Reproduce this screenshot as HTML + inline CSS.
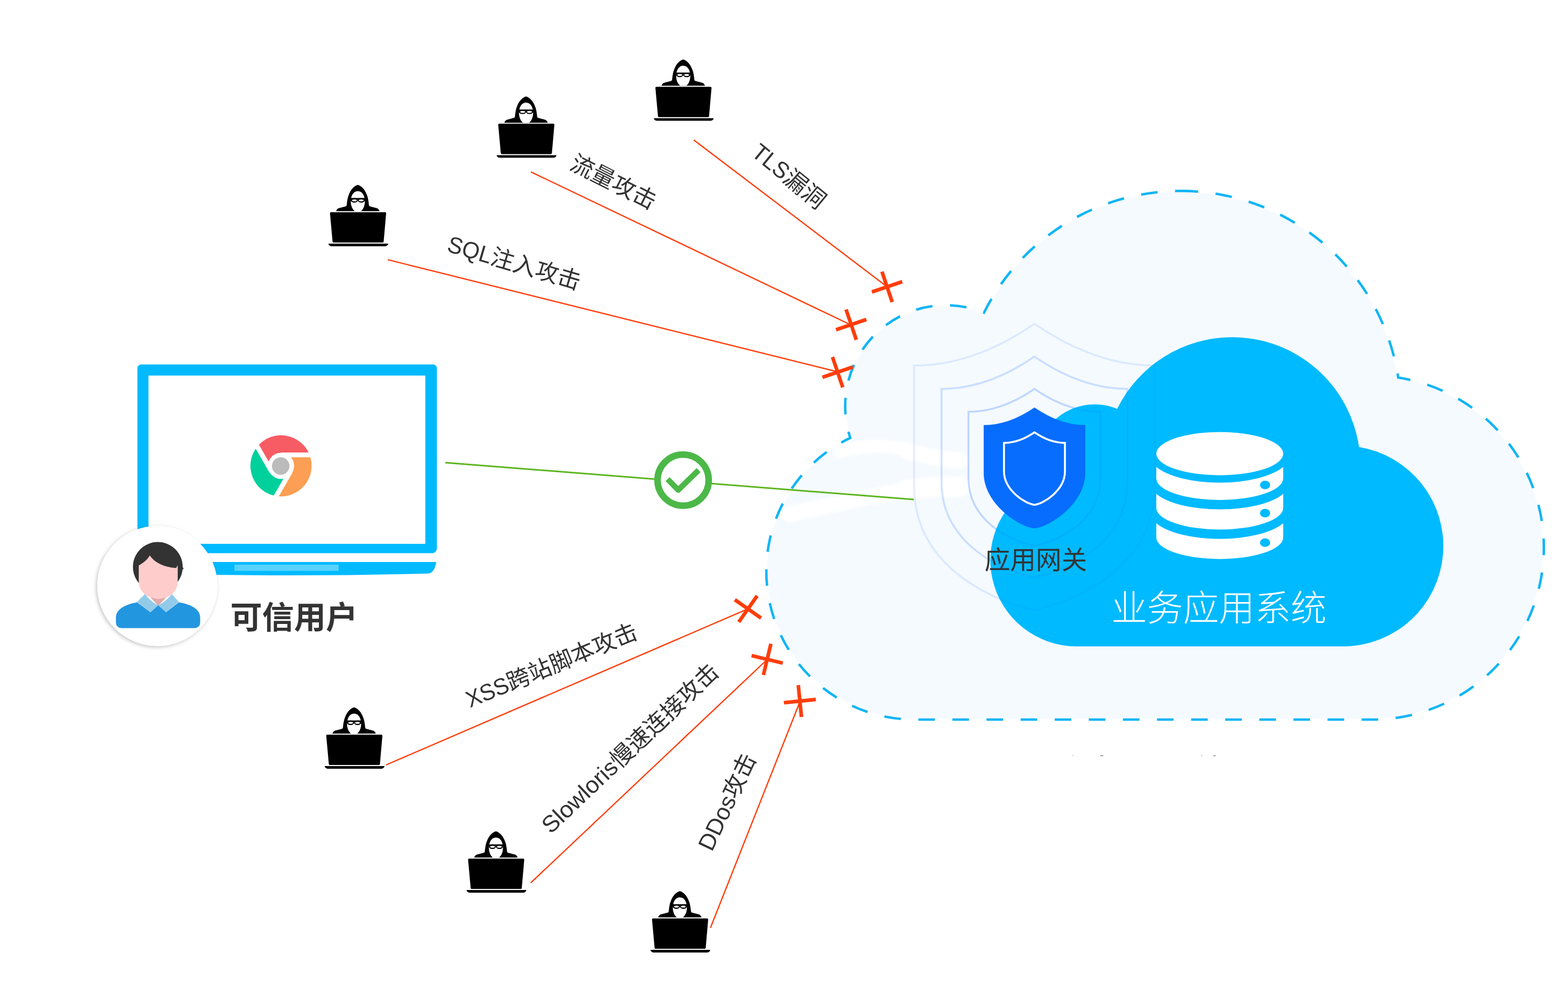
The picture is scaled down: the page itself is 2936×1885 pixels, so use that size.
<!DOCTYPE html>
<html lang="zh"><head><meta charset="utf-8"><title>应用网关防护示意图</title>
<style>
html,body{margin:0;padding:0;background:#fff;}
body{width:2936px;height:1885px;overflow:hidden;font-family:"Liberation Sans",sans-serif;}
svg{display:block;}
svg text{font-family:"Liberation Sans","Noto Sans CJK SC",sans-serif;font-kerning:none;}
</style></head><body>
<svg width="2936" height="1885" viewBox="0 0 2936 1885">
<defs>
<filter id="sh" x="-20%" y="-20%" width="140%" height="140%"><feDropShadow dx="-2" dy="2" stdDeviation="3.5" flood-color="#000" flood-opacity="0.24"/></filter>
<filter id="blur3" x="-10%" y="-50%" width="120%" height="200%"><feGaussianBlur stdDeviation="2.5"/></filter>
<clipPath id="innerclip"><path d="M2307.20 631.20 A240.0 240.0 0 0 1 2544.7 836.8 A187.8 187.8 0 0 1 2514.9 1210.0 H2015.9 A161.5 161.5 0 0 1 1945.6 903.1 A110.0 110.0 0 0 1 2091.8 765.4 A240.0 240.0 0 0 1 2307.20 631.20 Z"/></clipPath>
<symbol id="hacker" width="112" height="115" viewBox="0 0 112 115" overflow="visible">
<path d="M14.3 49.3C15.3 46.5 17 44.6 19 43.8L32.5 40.2C33.6 39.8 34 39 34.2 37.5C35 30 36 23 38.4 18C41 11 46 3 55 0C64 3 69 11 71.6 18C74 23 75 30 75.8 37.5C76 39 76.4 39.8 77.5 40.2L91 43.8C93 44.6 94.7 46.5 95.7 49.3Z" fill="#000"/>
<path d="M55 11.7C47 11.7 41.8 20 41.8 31C41.8 40 45.5 46.5 49.5 49.4L60.5 49.4C64.5 46.5 68.2 40 68.2 31C68.2 20 63 11.7 55 11.7Z" fill="#fff"/>
<path d="M41.6 24.6H68.4V27.4H41.6Z" fill="#000"/>
<ellipse cx="48.4" cy="29" rx="6.6" ry="4.2" fill="#000"/><ellipse cx="61.6" cy="29" rx="6.6" ry="4.2" fill="#000"/>
<ellipse cx="48.6" cy="29.1" rx="4.5" ry="1.9" fill="#fff"/><ellipse cx="61.4" cy="29.1" rx="4.5" ry="1.9" fill="#fff"/>
<path d="M4.9 51.2H106a2 2 0 0 1 2 2.2L103.4 106.2a2 2 0 0 1 -2 1.9H9.7a2 2 0 0 1 -2 -1.9L2.9 53.4a2 2 0 0 1 2 -2.2Z" fill="#000"/>
<path d="M0.8 110.1H111.1a0.8 0.8 0 0 1 0.7 1.2C110.5 113.7 108.5 114.9 106 114.9H6C3.5 114.9 1.5 113.7 0.1 111.3a0.8 0.8 0 0 1 0.7 -1.2Z" fill="#000"/>
</symbol>
</defs>
<path d="M2212.50 357.40 A411.9 411.9 0 0 1 2618.1 706.8 A322.0 322.0 0 0 1 2568.5 1347.0 H1712.3 A277.4 277.4 0 0 1 1592.1 819.6 A188.9 188.9 0 0 1 1842.5 585.2 A411.9 411.9 0 0 1 2212.50 357.40 Z" fill="#f5faff"/>
<g filter="url(#blur3)" stroke="#fff" fill="none" stroke-linecap="round" stroke-linejoin="round">
<path d="M1572 846 C1600 838 1625 834 1650 835 S1700 840 1733 850 S1775 856 1795 858" stroke-width="24"/>
<path d="M1700 846 C1730 852 1765 860 1797 862" stroke-width="30"/>
<path d="M1478 962 C1520 953 1560 945 1600 936 S1680 919 1720 916 S1770 913 1798 913" stroke-width="30"/>
<path d="M1700 916 C1740 911 1770 911 1797 911" stroke-width="38"/>
</g>
<path d="M2212.50 357.40 A411.9 411.9 0 0 1 2618.1 706.8 A322.0 322.0 0 0 1 2568.5 1347.0 H1712.3 A277.4 277.4 0 0 1 1592.1 819.6 A188.9 188.9 0 0 1 1842.5 585.2 A411.9 411.9 0 0 1 2212.50 357.40 Z" fill="none" stroke="#fff" stroke-width="3.4"/>
<path d="M2212.50 357.40 A411.9 411.9 0 0 1 2618.1 706.8 A322.0 322.0 0 0 1 2568.5 1347.0 H1712.3 A277.4 277.4 0 0 1 1592.1 819.6 A188.9 188.9 0 0 1 1842.5 585.2 A411.9 411.9 0 0 1 2212.50 357.40 Z" fill="none" stroke="#0fb5f5" stroke-width="4.6" stroke-dasharray="31.1 32.75"/>
<path d="M0 -116.2 Q-48 -83.2 -95.1 -83.2 V12 C-95.1 71 -42 100 0 110 C42 100 95.1 71 95.1 12 V-83.2 Q48 -83.2 0 -116.2 Z" transform="translate(1937.0 881.5) scale(2.370)" fill="none" stroke="#1a6dff" stroke-opacity="0.12" stroke-width="1.477"/>
<path d="M0 -116.2 Q-48 -83.2 -95.1 -83.2 V12 C-95.1 71 -42 100 0 110 C42 100 95.1 71 95.1 12 V-83.2 Q48 -83.2 0 -116.2 Z" transform="translate(1937.0 880.2) scale(1.830)" fill="none" stroke="#1a6dff" stroke-opacity="0.20" stroke-width="1.913"/>
<path d="M0 -116.2 Q-48 -83.2 -95.1 -83.2 V12 C-95.1 71 -42 100 0 110 C42 100 95.1 71 95.1 12 V-83.2 Q48 -83.2 0 -116.2 Z" transform="translate(1937.0 879.0) scale(1.300)" fill="none" stroke="#1a6dff" stroke-opacity="0.25" stroke-width="2.692"/>
<line x1="833.7" y1="866" x2="1711" y2="935" stroke="#5db51f" stroke-width="3"/>
<path d="M2307.20 631.20 A240.0 240.0 0 0 1 2544.7 836.8 A187.8 187.8 0 0 1 2514.9 1210.0 H2015.9 A161.5 161.5 0 0 1 1945.6 903.1 A110.0 110.0 0 0 1 2091.8 765.4 A240.0 240.0 0 0 1 2307.20 631.20 Z" fill="#00baff"/>
<g clip-path="url(#innerclip)">
<path d="M0 -116.2 Q-48 -83.2 -95.1 -83.2 V12 C-95.1 71 -42 100 0 110 C42 100 95.1 71 95.1 12 V-83.2 Q48 -83.2 0 -116.2 Z" transform="translate(1937.0 881.5) scale(2.370)" fill="none" stroke="#0a5cff" stroke-opacity="0.06" stroke-width="1.477"/>
<path d="M0 -116.2 Q-48 -83.2 -95.1 -83.2 V12 C-95.1 71 -42 100 0 110 C42 100 95.1 71 95.1 12 V-83.2 Q48 -83.2 0 -116.2 Z" transform="translate(1937.0 880.2) scale(1.830)" fill="none" stroke="#0a5cff" stroke-opacity="0.08" stroke-width="1.913"/>
<path d="M0 -116.2 Q-48 -83.2 -95.1 -83.2 V12 C-95.1 71 -42 100 0 110 C42 100 95.1 71 95.1 12 V-83.2 Q48 -83.2 0 -116.2 Z" transform="translate(1937.0 879.0) scale(1.300)" fill="none" stroke="#0a5cff" stroke-opacity="0.10" stroke-width="2.692"/>
</g>
<path d="M0 -116.2 Q-48 -83.2 -95.1 -83.2 V6 C-95.1 65 -27 108 0 110 C27 108 95.1 65 95.1 6 V-83.2 Q48 -83.2 0 -116.2 Z" transform="translate(1937.0 879.0)" fill="#066dff"/>
<path d="M0 -116.2 Q-48 -83.2 -95.1 -83.2 V6 C-95.1 65 -27 108 0 110 C27 108 95.1 65 95.1 6 V-83.2 Q48 -83.2 0 -116.2 Z" transform="translate(1937.0 879.0) scale(0.6)" fill="none" stroke="#fff" stroke-width="6.00"/>
<g fill="#fff">
<ellipse cx="2283.9" cy="849.2" rx="118.8" ry="40.45"/>
<path d="M2165.1 874.0 A130.7 50.7 0 0 0 2402.7 874.0 V895.5 A118.8 40.45 0 0 1 2165.1 895.5 Z"/>
<path d="M2165.1 924.5 A130.7 49.9 0 0 0 2402.7 924.5 V950.8 A118.8 40.45 0 0 1 2165.1 950.8 Z"/>
<path d="M2165.1 979.6 A130.7 49.9 0 0 0 2402.7 979.6 V1006.0 A118.8 40.45 0 0 1 2165.1 1006.0 Z"/>
</g>
<ellipse cx="2368.8" cy="907.8" rx="9.5" ry="8" fill="#00baff"/>
<ellipse cx="2368.8" cy="960.5" rx="9.5" ry="8" fill="#00baff"/>
<ellipse cx="2368.8" cy="1015.8" rx="9.5" ry="8" fill="#00baff"/>
<g transform="translate(1843.40 1065.20) rotate(0.00)" fill="#333" opacity="0.999"><title>应用网关</title>
<text x="0" y="0" font-size="48">应用网关</text>
</g>
<g transform="translate(2080.80 1162.00) rotate(0.00)" fill="#fff" opacity="0.999"><title>业务应用系统</title>
<text x="0" y="0" font-size="67.2" font-weight="300">业务应用系统</text>
</g>
<g fill="#333" fill-opacity="0.7"><rect x="2008.3" y="1414" width="1.2" height="1"/><rect x="2060" y="1414" width="6" height="1.2"/><rect x="2249.3" y="1414" width="1.5" height="1"/><rect x="2271.5" y="1414" width="5" height="1.2"/></g>
<line x1="1299.0" y1="262.0" x2="1660.0" y2="536.0" stroke="#ff3d0a" stroke-width="2.4"/>
<line x1="994.1" y1="321.8" x2="1593.8" y2="608.5" stroke="#ff3d0a" stroke-width="2.4"/>
<line x1="726.1" y1="486.2" x2="1568.6" y2="696.0" stroke="#ff3d0a" stroke-width="2.4"/>
<line x1="722.6" y1="1432.0" x2="1399.5" y2="1140.2" stroke="#ff3d0a" stroke-width="2.4"/>
<line x1="993.7" y1="1652.7" x2="1436.0" y2="1235.0" stroke="#ff3d0a" stroke-width="2.4"/>
<line x1="1330.3" y1="1736.8" x2="1498.0" y2="1313.0" stroke="#ff3d0a" stroke-width="2.4"/>
<path d="M-30 0H30M0 -30V30" transform="translate(1661.0 536.9) rotate(-18.7)" stroke="#ff3d0a" stroke-width="6.8" fill="none"/>
<path d="M-30 0H30M0 -30V30" transform="translate(1593.8 607.7) rotate(-18.7)" stroke="#ff3d0a" stroke-width="6.8" fill="none"/>
<path d="M-30 0H30M0 -30V30" transform="translate(1568.4 696.7) rotate(-18.7)" stroke="#ff3d0a" stroke-width="6.8" fill="none"/>
<path d="M-30 0H30M0 -30V30" transform="translate(1400.5 1139.8) rotate(35.0)" stroke="#ff3d0a" stroke-width="6.8" fill="none"/>
<path d="M-30 0H30M0 -30V30" transform="translate(1436.5 1234.3) rotate(13.5)" stroke="#ff3d0a" stroke-width="6.8" fill="none"/>
<path d="M-30 0H30M0 -30V30" transform="translate(1497.7 1312.3) rotate(-5.7)" stroke="#ff3d0a" stroke-width="6.8" fill="none"/>
<use href="#hacker" x="1224.3" y="111.2"/>
<use href="#hacker" x="930.0" y="180.4"/>
<use href="#hacker" x="615.0" y="346.0"/>
<use href="#hacker" x="608.0" y="1324.0"/>
<use href="#hacker" x="873.6" y="1556.0"/>
<use href="#hacker" x="1218.0" y="1668.0"/>
<g transform="translate(1404.70 289.70) rotate(39.40)" fill="#333" opacity="0.999"><title>TLS漏洞</title>
<text x="0.00" y="0.00" font-size="43.40" textLength="76.34" lengthAdjust="spacingAndGlyphs">TLS</text>
<text x="76.34" y="0" font-size="43.4">漏洞</text>
</g>
<g transform="translate(1064.40 315.40) rotate(26.60)" fill="#333" opacity="0.999"><title>流量攻击</title>
<text x="0" y="0" font-size="43.4">流量攻击</text>
</g>
<g transform="translate(835.00 470.00) rotate(16.40)" fill="#333" opacity="0.999"><title>SQL注入攻击</title>
<text x="0.00" y="0.00" font-size="43.40" textLength="84.41" lengthAdjust="spacingAndGlyphs">SQL</text>
<text x="84.41" y="0" font-size="43.4">注入攻击</text>
</g>
<g transform="translate(880.00 1325.00) rotate(-22.45)" fill="#333" opacity="0.999"><title>XSS跨站脚本攻击</title>
<text x="0.00" y="0.00" font-size="43.40" textLength="82.76" lengthAdjust="spacingAndGlyphs">XSS</text>
<text x="82.76" y="0" font-size="43.4">跨站脚本攻击</text>
</g>
<g transform="translate(1031.30 1562.30) rotate(-43.50)" fill="#333" opacity="0.999"><title>Slowloris慢速连接攻击</title>
<text x="0.00" y="0.00" font-size="43.40" textLength="177.55" lengthAdjust="spacingAndGlyphs">Slowloris</text>
<text x="177.55" y="0" font-size="43.4">慢速连接攻击</text>
</g>
<g transform="translate(1332.90 1595.60) rotate(-64.50)" fill="#333" opacity="0.999"><title>DDos攻击</title>
<text x="0.00" y="0.00" font-size="43.40" textLength="108.54" lengthAdjust="spacingAndGlyphs">DDos</text>
<text x="108.54" y="0" font-size="43.4">攻击</text>
</g>
<path d="M264.3 682.3H811a7 7 0 0 1 7 7V1026.6a9 9 0 0 1 -9 9H266.3a9 9 0 0 1 -9 -9V689.3a7 7 0 0 1 7 -7Z M278 703V1018H796.4V703Z" fill="#00baff" fill-rule="evenodd"/>
<path d="M258 1052H817 C815.5 1062 811 1072 803 1073.6 Q537.5 1080.5 272 1073.6 C264 1072 259.5 1062 258 1052Z" fill="#00baff"/>
<rect x="439" y="1057" width="195" height="11.6" fill="#fff" fill-opacity="0.35"/>
<g transform="translate(526.2 872)">
<path d="M-17.75 10.25L-44.5 -36.08A57.3 57.3 0 0 1 53.5 -20.5L0 -20.5Z" fill="#f75c64"/>
<path d="M0 -20.5L53.5 -20.5A57.3 57.3 0 0 1 -9 56.58L17.75 10.25Z" fill="#fc9f54"/>
<path d="M17.75 10.25L-9 56.58A57.3 57.3 0 0 1 -44.5 -36.08L-17.75 10.25Z" fill="#00d09c"/>
<path d="M0 -20.5H60M17.75 10.25L-12 61.8M-17.75 10.25L-47.5 -41.3" stroke="#fff" stroke-width="9" fill="none"/>
<circle r="24.5" fill="#fff"/><circle cx="-0.6" cy="0.3" r="16.4" fill="#bbb"/>
</g>
<g filter="url(#sh)"><circle cx="294.7" cy="1096.8" r="112.5" fill="#fff"/></g>
<g>
<circle cx="295.5" cy="1061.2" r="46.6" fill="#333"/>
<path d="M339.6 1060.5 L344.2 1063.8 L341.5 1066.5Z" fill="#333"/>
<path d="M270 1106H323L296.3 1134Z" fill="#e2aaaa"/>
<path d="M259.8 1058.5 C268 1054 276 1048 280.4 1039.8 C290 1054 308 1062 329.9 1063.3 L332.8 1058 V1090 A36.5 31 0 0 1 259.8 1090Z" fill="#ffcccc"/>
<path d="M256.8 1127.5 C235 1131 217.1 1140 217.1 1156 V1165.8 a10 10 0 0 0 10 10 H364.8 a10 10 0 0 0 10 -10 V1156 C374.8 1140 357 1131 334.7 1127.5 L310.9 1146.1 L296.3 1132.8 L281.7 1146.1Z" fill="#2396e0"/>
<path d="M271.4 1112 L256.8 1126.6 L281.7 1146.1 L296.3 1132.8 C288 1129 278 1121 271.4 1112Z" fill="#92cbe9"/>
<path d="M321.7 1112 L334.7 1126.6 L310.9 1146.1 L296.3 1132.8 C305 1129 315 1121 321.7 1112Z" fill="#92cbe9"/>
</g>
<g transform="translate(431.20 1177.00) rotate(0.00)" fill="#333" opacity="0.999"><title>可信用户</title>
<text x="0" y="0" font-size="59.6" font-weight="bold">可信用户</text>
</g>
<circle cx="1279.1" cy="898.7" r="47.9" fill="#fff" stroke="#4cb848" stroke-width="12.3"/>
<path d="M1250 896.9L1270 917.2L1308.1 880" fill="none" stroke="#4cb848" stroke-width="10.6" stroke-linejoin="round"/>
</svg>
</body></html>
